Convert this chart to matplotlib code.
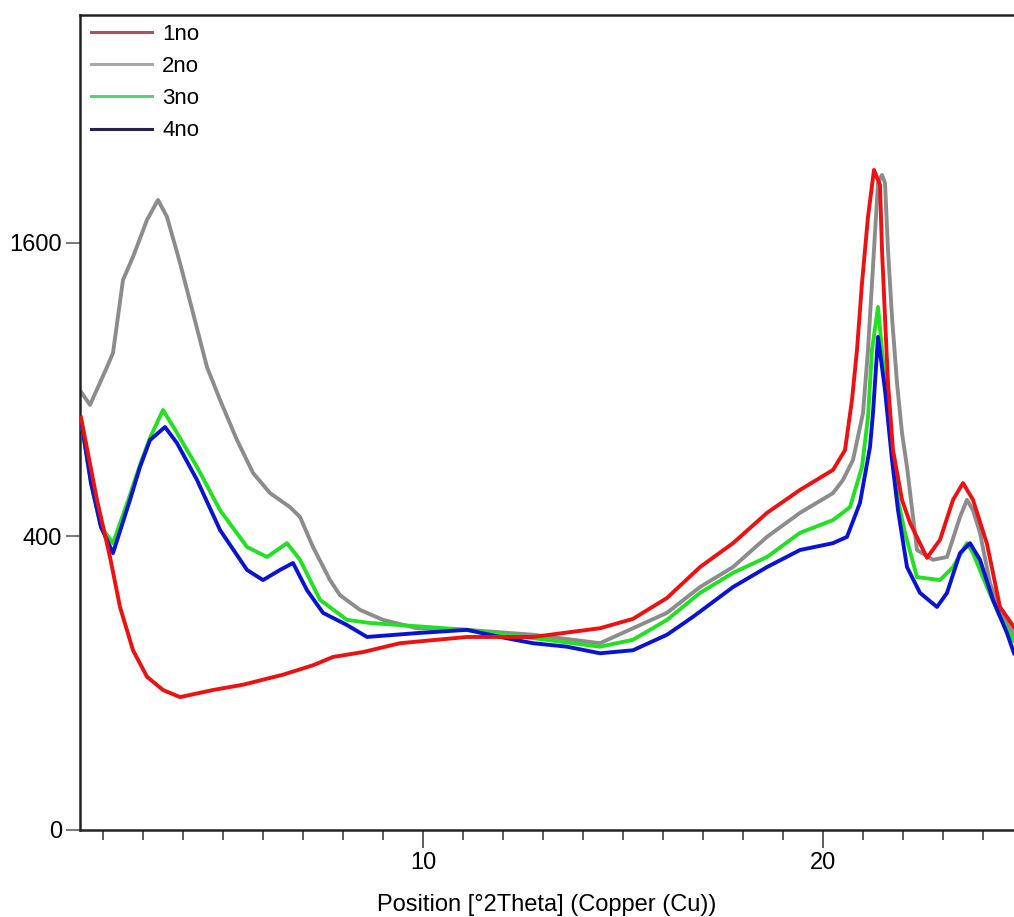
import numpy as np
import matplotlib.pyplot as plt
from matplotlib.lines import Line2D
from matplotlib.ticker import FixedLocator, MultipleLocator

plt.rcParams['font.family'] = ['Liberation Sans', 'DejaVu Sans']

# 2theta (deg) / counts
x1 = [1.45, 1.85, 2.175, 2.425, 2.75, 3.1, 3.5, 3.925, 4.75, 5.5, 6.5, 7.25, 7.75,
      8.5, 9.425, 11.1, 12.75, 14.425, 15.25, 16.1, 16.925, 17.75, 18.6, 19.425,
      20.25, 20.55, 20.725, 20.85, 20.975, 21.125, 21.275, 21.425, 21.475, 21.55,
      21.625, 21.75, 21.975, 22.175, 22.6, 22.925, 23.25, 23.5, 23.75, 24.1, 24.425, 24.775]
y1 = [790, 506, 346, 231, 150, 109, 91, 82, 91, 98, 112, 126, 139,
      147, 162, 173, 173, 189, 207, 250, 321, 382, 467, 537,
      602, 670, 859, 1070, 1389, 1745, 2023, 1932, 1562, 1222,
      928, 670, 506, 438, 344, 391, 506, 559, 506, 380, 231, 191]

x2 = [1.45, 1.675, 2.1, 2.25, 2.5, 2.75, 3.1, 3.375, 3.6, 3.925, 4.25, 4.6, 4.925,
      5.35, 5.75, 6.175, 6.675, 6.925, 7.25, 7.675, 7.925, 8.425, 9.0, 9.85, 11.1,
      12.75, 14.425, 16.1, 16.925, 17.75, 18.6, 19.425, 20.25, 20.5, 20.75, 21.0,
      21.125, 21.225, 21.375, 21.475, 21.55, 21.625, 21.725, 21.85, 21.975, 22.1,
      22.35, 22.75, 23.1, 23.425, 23.6, 23.75, 23.925, 24.175, 24.5, 24.775]
y2 = [891, 839, 995, 1057, 1405, 1525, 1728, 1843, 1745, 1493, 1241, 995, 859,
      706, 592, 527, 484, 455, 372, 290, 256, 225, 205, 189, 186,
      177, 162, 219, 274, 321, 399, 467, 527, 569, 636, 807,
      1070, 1389, 1944, 1992, 1944, 1562, 1222, 928, 732, 612,
      364, 339, 346, 455, 506, 475, 410, 283, 211, 178]

x3 = [1.45, 1.7, 1.95, 2.25, 2.675, 2.925, 3.175, 3.5, 3.85, 4.35, 4.925, 5.6, 6.1,
      6.6, 6.925, 7.425, 8.1, 8.675, 9.425, 11.1, 12.75, 14.425, 15.25, 16.1,
      16.925, 17.75, 18.6, 19.425, 20.25, 20.675, 20.975, 21.125, 21.225, 21.375,
      21.55, 21.725, 21.875, 22.05, 22.35, 22.925, 23.25, 23.6, 23.75, 24.1, 24.425, 24.775]
y3 = [780, 559, 426, 382, 521, 619, 714, 819, 732, 612, 475, 372, 346,
      382, 339, 246, 205, 199, 195, 186, 171, 156, 168, 205,
      261, 307, 346, 410, 446, 484, 612, 792, 1070, 1270,
      928, 670, 506, 410, 297, 290, 321, 382, 356, 274, 211, 166]

x4 = [1.45, 1.7, 1.95, 2.25, 2.675, 2.925, 3.175, 3.55, 3.85, 4.35, 4.925, 5.6, 6.0,
      6.425, 6.75, 7.1, 7.5, 8.1, 8.6, 9.85, 11.1, 11.925, 12.75, 13.6, 14.425,
      15.25, 16.1, 16.75, 17.75, 18.6, 19.425, 20.25, 20.6, 20.925, 21.175, 21.25,
      21.375, 21.55, 21.725, 21.875, 22.1, 22.425, 22.85, 23.1, 23.425, 23.675,
      23.925, 24.25, 24.6, 24.775]
y4 = [780, 559, 426, 356, 506, 612, 706, 754, 695, 569, 418, 314, 290,
      314, 331, 267, 219, 195, 173, 180, 186, 173, 162, 156, 145,
      150, 177, 211, 274, 321, 364, 382, 399, 497, 681, 807,
      1129, 899, 636, 475, 321, 261, 231, 261, 356, 382,
      339, 246, 180, 145]

names = ['1no', '2no', '3no', '4no']
line_cols = ['#ee1111', '#8c8c8c', '#22e022', '#0a14d0']
legend_cols = ['#b0505e', '#a8a8a8', '#55d570', '#22224e']
y_ticks = [0, 400, 1600]

fig = plt.figure(figsize=(10.14, 9.17), dpi=100)
ax = fig.add_axes([80 / 1014, 1 - 830 / 917, 1 - 80 / 1014, (830 - 15) / 917])

ax.set_yscale('function', functions=(lambda v: np.sqrt(np.clip(v, 0, None)),
                                     lambda v: np.square(v)))

ax.plot(x2, y2, color=line_cols[1], lw=2.8, zorder=2)
ax.plot(x3, y3, color=line_cols[2], lw=2.8, zorder=3)
ax.plot(x4, y4, color=line_cols[3], lw=2.8, zorder=4)
ax.plot(x1, y1, color=line_cols[0], lw=2.8, zorder=5)

ax.set_xlim(1.425, 24.775)
ax.set_ylim(0, 3084)

ax.xaxis.set_major_locator(FixedLocator([10, 20]))
ax.xaxis.set_minor_locator(MultipleLocator(1))
ax.yaxis.set_major_locator(FixedLocator(y_ticks))
ax.yaxis.set_minor_locator(FixedLocator([]))
ax.set_yticklabels([str(t) for t in y_ticks])

ax.tick_params(axis='x', which='major', direction='out', length=13, width=1.1,
               labelsize=17, pad=3, color='#333333')
ax.tick_params(axis='x', which='minor', direction='out', length=7, width=1.1,
               color='#333333')
ax.tick_params(axis='y', which='major', direction='out', length=10, width=1.1,
               labelsize=17, pad=3, color='#555555')

for side in ['top', 'left', 'bottom']:
    ax.spines[side].set_linewidth(1.8)
    ax.spines[side].set_color('#222222')
ax.spines['right'].set_visible(False)

ax.set_xlabel('Position [°2Theta] (Copper (Cu))', fontsize=17, labelpad=14)

handles = [Line2D([], [], color=c, lw=2.2) for c in legend_cols]
fig.legend(handles, names, loc='upper left', bbox_to_anchor=(91 / 1014, 1 - 24 / 917),
           frameon=False, fontsize=16, handlelength=2.75, handletextpad=0.45,
           labelspacing=0.5, borderpad=0, borderaxespad=0)

fig.savefig('out.png', dpi=100)
